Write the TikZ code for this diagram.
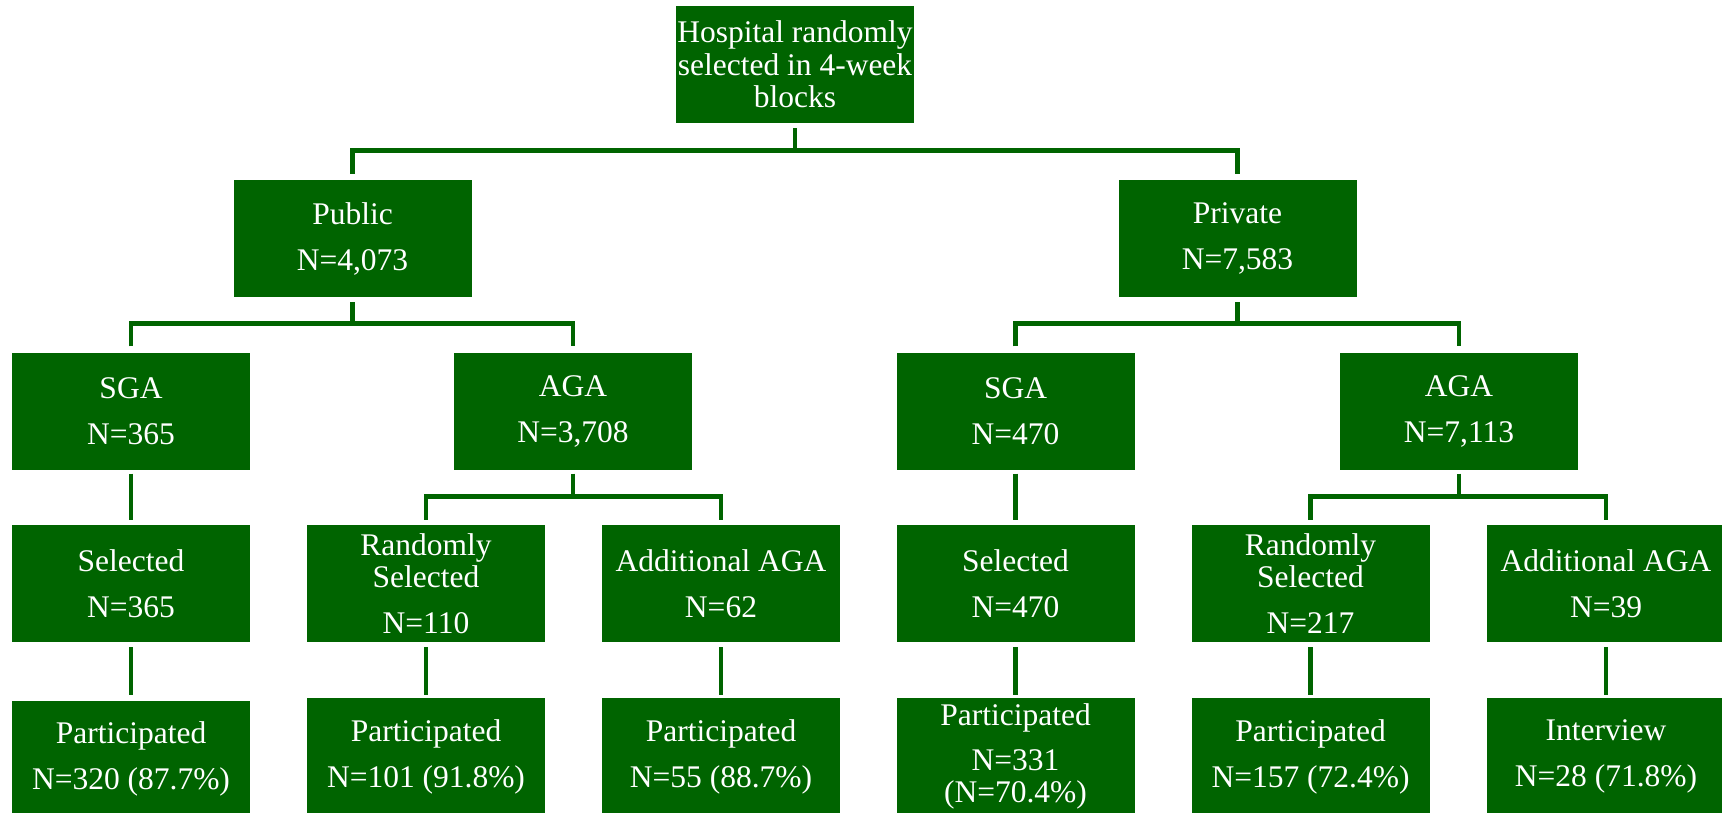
\documentclass[tikz,border=0pt]{standalone}
\usepackage{fontspec}
\setmainfont{Liberation Serif}
\definecolor{boxgreen}{RGB}{0,100,0}
\begin{document}
\begin{tikzpicture}[x=1pt,y=-1pt,
  box/.style={fill=boxgreen, draw=none, minimum width=238pt, minimum height=117pt,
    inner sep=0pt, align=center, text=white, font=\fontsize{31.5}{32.5}\selectfont},
  conn/.style={draw=boxgreen, line width=4.8pt}]
\useasboundingbox (0,0) rectangle (1722,813);
% boxes
\node[box] (top) at (795,64.5) {Hospital randomly\\selected in 4-week\\blocks};
\node[box] (pub) at (352.5,238.5) {Public\\[13.5pt]N=4,073};
\node[box] (priv) at (1237.5,238.5) {Private\\[13.5pt]N=7,583};
\node[box] (sga1) at (131,411) {SGA\\[13.5pt]N=365};
\node[box] (aga1) at (573,411) {AGA\\[13.5pt]N=3,708};
\node[box] (sga2) at (1015.5,411) {SGA\\[13.5pt]N=470};
\node[box] (aga2) at (1459,411) {AGA\\[13.5pt]N=7,113};
\node[box] (sel1) at (131,583.5) {Selected\\[13.5pt]N=365};
\node[box] (rs1) at (426,583.5) {Randomly\\Selected\\[13.5pt]N=110};
\node[box] (add1) at (721,583.5) {Additional AGA\\[13.5pt]N=62};
\node[box] (sel2) at (1015.5,583.5) {Selected\\[13.5pt]N=470};
\node[box] (rs2) at (1310.5,583.5) {Randomly\\Selected\\[13.5pt]N=217};
\node[box] (add2) at (1606,583.5) {Additional AGA\\[13.5pt]N=39};
\node[box] (par1) at (131,759) {Participated\\[13.5pt]N=320 (87.7\%)};
\node[box] (par2) at (426,756.5) {Participated\\[13.5pt]N=101 (91.8\%)};
\node[box] (par3) at (721,756.5) {Participated\\[13.5pt]N=55 (88.7\%)};
\node[box] (par4) at (1015.5,756.5) {Participated\\[12.5pt]N=331\\(N=70.4\%)};
\node[box] (par5) at (1310.5,756.5) {Participated\\[13.5pt]N=157 (72.4\%)};
\node[box] (int6) at (1606,756.5) {Interview\\[13.5pt]N=28 (71.8\%)};
% connectors: top level
\draw[conn] ([yshift=6pt]pub.north) -- ++(0,-23) coordinate (barA) -| ([yshift=6pt]priv.north);
\draw[conn] ([yshift=-5pt]top.south) -- (top.south |- barA);
% public branch
\draw[conn] ([yshift=6pt]sga1.north) -- ++(0,-23) coordinate (barB) -| ([yshift=6pt]aga1.north);
\draw[conn] ([yshift=-5pt]pub.south) -- (pub.south |- barB);
% private branch
\draw[conn] ([yshift=6pt]sga2.north) -- ++(0,-23) coordinate (barC) -| ([yshift=6pt]aga2.north);
\draw[conn] ([yshift=-5pt]priv.south) -- (priv.south |- barC);
% AGA public
\draw[conn] ([yshift=5pt]rs1.north) -- ++(0,-23) coordinate (barD) -| ([yshift=5pt]add1.north);
\draw[conn] ([yshift=-4pt]aga1.south) -- (aga1.south |- barD);
% AGA private
\draw[conn] ([yshift=5pt]rs2.north) -- ++(0,-23) coordinate (barE) -| ([yshift=5pt]add2.north);
\draw[conn] ([yshift=-4pt]aga2.south) -- (aga2.south |- barE);
% SGA straight
\draw[conn] ([yshift=-4pt]sga1.south) -- ([yshift=5pt]sel1.north);
\draw[conn] ([yshift=-4pt]sga2.south) -- ([yshift=5pt]sel2.north);
% row 4 to row 5
\draw[conn] ([yshift=-5pt]sel1.south) -- ([yshift=5pt]par1.north);
\draw[conn] ([yshift=-5pt]rs1.south) -- ([yshift=3pt]par2.north);
\draw[conn] ([yshift=-5pt]add1.south) -- ([yshift=3pt]par3.north);
\draw[conn] ([yshift=-5pt]sel2.south) -- ([yshift=3pt]par4.north);
\draw[conn] ([yshift=-5pt]rs2.south) -- ([yshift=3pt]par5.north);
\draw[conn] ([yshift=-5pt]add2.south) -- ([yshift=3pt]int6.north);
\end{tikzpicture}
\end{document}
